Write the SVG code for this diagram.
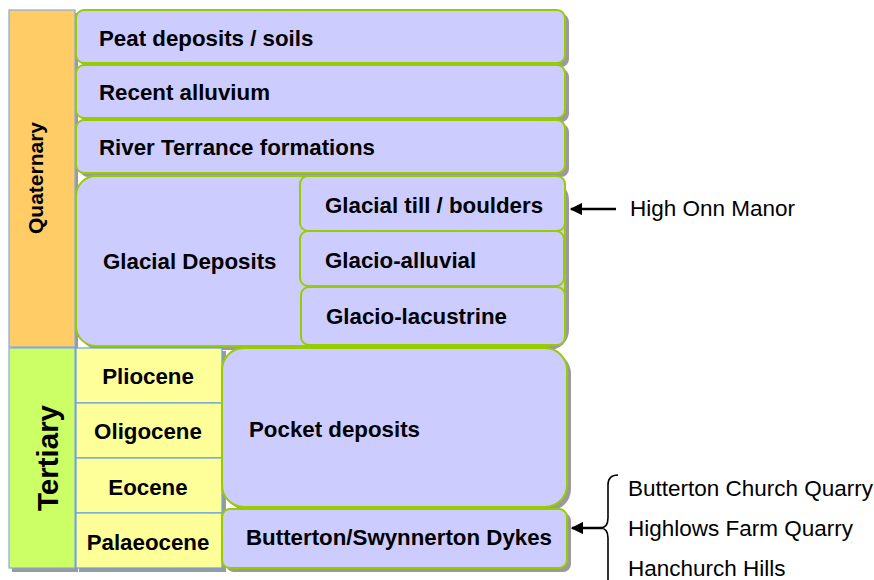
<svg xmlns="http://www.w3.org/2000/svg" width="874" height="580" viewBox="0 0 874 580">
<defs>
<style>
.bx{fill:#CCCCFF;stroke:#99CC00;stroke-width:2}
.sh{fill:#9a9a9a}
.ep{fill:#FFFF99;stroke:#66A3E0;stroke-width:1.2}
.t{font-family:"Liberation Sans",Arial,sans-serif;font-weight:bold;font-size:22.3px;fill:#000}
.n{font-family:"Liberation Sans",Arial,sans-serif;font-size:22.5px;fill:#000}
.ln{stroke:#000;stroke-width:2.5;fill:none}
</style>
<marker id="ah" viewBox="0 0 10 10" refX="9" refY="5" markerWidth="5" markerHeight="5" orient="auto-start-reverse">
<path d="M0,0 L10,5 L0,10 z" fill="#000"/>
</marker>
</defs>
<rect width="874" height="580" fill="#fff"/>
<g id="shadows">
<rect class="sh" x="80" y="14" width="489" height="53" rx="8"/>
<rect class="sh" x="80" y="69" width="489" height="53" rx="8"/>
<rect class="sh" x="80" y="124" width="489" height="53" rx="8"/>
<rect class="sh" x="80" y="180" width="489" height="170" rx="20"/>
<rect class="sh" x="226" y="352" width="345" height="159" rx="22"/>
<rect class="sh" x="226" y="513" width="345" height="59" rx="8"/>
<rect class="sh" x="12" y="13" width="66" height="559"/>
<rect class="sh" x="79" y="351" width="147" height="221"/>
</g>
<g id="quaternary">
<rect x="9" y="10" width="66" height="337" fill="#FFCC66" stroke="#88AADD" stroke-width="1.2"/>
<text class="t" transform="translate(43,178) rotate(-90)" text-anchor="middle" style="font-size:21px">Quaternary</text>
</g>
<g id="tertiary">
<rect x="9" y="348" width="66" height="220" fill="#CCFF66" stroke="#88AADD" stroke-width="1.2"/>
<text class="t" transform="translate(58,458) rotate(-90)" text-anchor="middle" style="font-size:29.5px">Tertiary</text>
</g>
<g id="peat"><rect class="bx" x="76" y="10" width="489" height="53" rx="8"/><text class="t" x="99" y="46">Peat deposits / soils</text></g>
<g id="alluvium"><rect class="bx" x="76" y="65" width="489" height="53" rx="8"/><text class="t" x="99" y="100">Recent alluvium</text></g>
<g id="terrace"><rect class="bx" x="76" y="120" width="489" height="53" rx="8"/><text class="t" x="99" y="155">River Terrance formations</text></g>
<g id="glacial"><rect class="bx" x="76" y="176" width="489" height="170" rx="20"/><text class="t" x="103" y="269">Glacial Deposits</text></g>
<g id="till"><rect class="bx" x="300" y="176" width="265" height="55" rx="8"/><text class="t" x="325" y="213">Glacial till / boulders</text></g>
<g id="glacioalluvial"><rect class="bx" x="300" y="231" width="264" height="55" rx="8"/><text class="t" x="325" y="268">Glacio-alluvial</text></g>
<g id="glaciolacustrine"><rect class="bx" x="301" y="287" width="264" height="58" rx="8"/><text class="t" x="326" y="324">Glacio-lacustrine</text></g>
<g id="pliocene"><rect class="ep" x="76" y="348" width="146" height="55"/><text class="t" x="148" y="384" text-anchor="middle">Pliocene</text></g>
<g id="oligocene"><rect class="ep" x="76" y="403" width="146" height="55"/><text class="t" x="148" y="439" text-anchor="middle">Oligocene</text></g>
<g id="eocene"><rect class="ep" x="76" y="458" width="146" height="55"/><text class="t" x="148" y="495" text-anchor="middle">Eocene</text></g>
<g id="palaeocene"><rect class="ep" x="76" y="513" width="146" height="55"/><text class="t" x="148" y="550" text-anchor="middle">Palaeocene</text></g>
<g id="pocket"><rect class="bx" x="222" y="348" width="345" height="159" rx="22"/><text class="t" x="249" y="437">Pocket deposits</text></g>
<g id="dykes"><rect class="bx" x="222" y="509" width="345" height="59" rx="8"/><text class="t" x="246" y="545">Butterton/Swynnerton Dykes</text></g>
<g id="connectors">
<line class="ln" x1="616" y1="209" x2="571" y2="209" marker-end="url(#ah)"/>
<line class="ln" x1="602" y1="528" x2="572" y2="528" marker-end="url(#ah)"/>
<path d="M618,475 Q608,475 608,485 L608,518 Q608,528 600,528 Q608,528 608,538 L608,580" stroke="#000" stroke-width="1.6" fill="none"/>
</g>
<g id="labels">
<text class="n" x="630" y="216">High Onn Manor</text>
<text class="n" x="628" y="496">Butterton Church Quarry</text>
<text class="n" x="628" y="536">Highlows Farm Quarry</text>
<text class="n" x="628" y="576">Hanchurch Hills</text>
</g>
</svg>
